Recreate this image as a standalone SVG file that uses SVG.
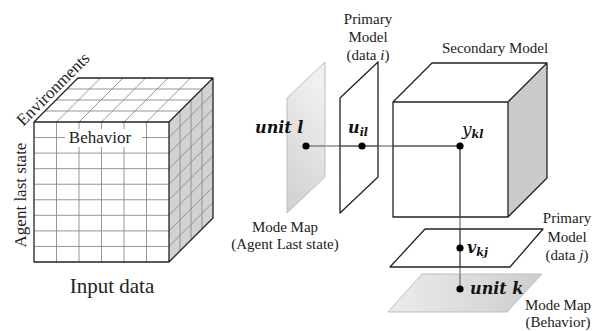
<svg xmlns="http://www.w3.org/2000/svg" width="614" height="331" viewBox="0 0 614 331">
  <style>
    .lbl { font-family: "Liberation Serif", "Times New Roman", serif; font-size: 15px; fill: #222; text-anchor: middle; }
    .big { font-family: "Liberation Serif", "Times New Roman", serif; font-size: 17px; fill: #222; }
    .math { font-family: "DejaVu Serif", serif; font-style: italic; font-weight: bold; fill: #111; }
    .edge { fill: none; stroke: #222; stroke-width: 1.3; stroke-linejoin: round; }
    .grid { fill: none; stroke: #8a8a8a; stroke-width: 0.9; }
    .wire { fill: none; stroke: #555; stroke-width: 1; }
    .dot { fill: #000; }
  </style>
  <defs>
    <linearGradient id="mapL" x1="0" y1="1" x2="0.3" y2="0">
      <stop offset="0" stop-color="#cfcfcf"/>
      <stop offset="1" stop-color="#f0f0f0"/>
    </linearGradient>
    <linearGradient id="mapK" x1="0" y1="0" x2="1" y2="0">
      <stop offset="0" stop-color="#ececec"/>
      <stop offset="1" stop-color="#cdcdcd"/>
    </linearGradient>
  </defs>
  <rect width="614" height="331" fill="#fff"/>

  <!-- Input data cube -->
  <g id="input-cube">
    <polygon points="34,122 169,122 213,78 78,78" fill="#fff"/>
    <polygon points="169,122 213,78 213,218 169,262" fill="#d2d2d2"/>
    <rect x="34" y="122" width="135" height="140" fill="#fff"/>
    <path class="grid" d="M56.5,122V262M79,122V262M101.5,122V262M124,122V262M146.5,122V262
      M34,137.56H169M34,153.11H169M34,168.67H169M34,184.22H169M34,199.78H169M34,215.33H169M34,230.89H169M34,246.44H169
      M45,111H180M56,100H191M67,89H202
      M56.5,122L100.5,78M79,122L123,78M101.5,122L145.5,78M124,122L168,78M146.5,122L190.5,78
      M180,111V251M191,100V240M202,89V229
      M169,137.56L213,93.56M169,153.11L213,109.11M169,168.67L213,124.67M169,184.22L213,140.22
      M169,199.78L213,155.78M169,215.33L213,171.33M169,230.89L213,186.89M169,246.44L213,202.44"/>
    <path class="edge" d="M34,122H169V262H34Z M34,122L78,78H213L169,122 M213,78V218L169,262"/>
    <rect x="65" y="129" width="77" height="18" fill="#fff"/>
    <text class="big" x="100" y="143" text-anchor="middle">Behavior</text>
    <text class="big" transform="translate(57,93) rotate(-45)" text-anchor="middle">Environments</text>
    <text class="big" transform="translate(26,195) rotate(-90)" text-anchor="middle">Agent last state</text>
    <text class="big" x="112" y="293" text-anchor="middle" style="font-size:21px">Input data</text>
  </g>

  <!-- Connectors -->
  <g id="connectors">
    <path class="wire" d="M306,146H460M460,146V289"/>
  </g>

  <!-- Mode map (agent last state) -->
  <g id="mode-map-l">
    <polygon points="287,98 325,62 325,177 287,213" fill="url(#mapL)" stroke="#bdbdbd" stroke-width="1"/>
    <path class="wire" d="M306,146H325"/>
    <circle class="dot" cx="306" cy="146" r="3.6"/>
    <text class="math" x="255" y="133" style="font-size:16px">unit l</text>
    <text class="lbl" x="285" y="232">Mode Map</text>
    <text class="lbl" x="285" y="249">(Agent Last state)</text>
  </g>

  <!-- Primary model (data i) -->
  <g id="primary-i">
    <polygon class="edge" points="340,98 378,62 378,177 340,213" fill="#fff"/>
    <path class="wire" d="M340,146H378"/>
    <circle class="dot" cx="362" cy="146" r="3.6"/>
    <text class="math" x="348" y="133" style="font-size:16px">u<tspan dy="3" style="font-size:11px">il</tspan></text>
    <text class="lbl" x="368" y="24">Primary</text>
    <text class="lbl" x="368" y="42">Model</text>
    <text class="lbl" x="368" y="60">(data <tspan font-style="italic">i</tspan>)</text>
  </g>

  <!-- Secondary model cube -->
  <g id="secondary">
    <polygon points="393,102 432,63 547,63 508,102" fill="#fff"/>
    <polygon points="508,102 547,63 547,178 508,217" fill="#cbcbcb"/>
    <path class="edge" d="M393,102H508V217H393Z M393,102L432,63H547L508,102 M547,63V178L508,217"/>
    <path class="wire" d="M393,146H460V217"/>
    <circle class="dot" cx="460" cy="146" r="3.6"/>
    <text class="math" x="462" y="135" style="font-size:17px;font-weight:normal">y<tspan dy="3" style="font-size:11px;font-weight:bold">kl</tspan></text>
    <text class="lbl" x="495" y="53">Secondary Model</text>
  </g>

  <!-- Primary model (data j) -->
  <g id="primary-j">
    <polygon class="edge" points="390,267 425,229 543,229 510,267" fill="#fff"/>
    <path class="wire" d="M460,229V267"/>
    <circle class="dot" cx="460" cy="248" r="3.6"/>
    <text class="math" x="467" y="253" style="font-size:16px">v<tspan dy="3" style="font-size:11px">kj</tspan></text>
    <text class="lbl" x="567" y="223">Primary</text>
    <text class="lbl" x="567" y="242">Model</text>
    <text class="lbl" x="567" y="260">(data <tspan font-style="italic">j</tspan>)</text>
  </g>

  <!-- Mode map (behavior) -->
  <g id="mode-map-k">
    <polygon points="388,312 422,274 542,274 507,312" fill="url(#mapK)" stroke="#bdbdbd" stroke-width="1"/>
    <path class="wire" d="M460,274V289"/>
    <circle class="dot" cx="460" cy="289" r="3.6"/>
    <text class="math" x="470" y="294" style="font-size:16px">unit k</text>
    <text class="lbl" x="558" y="310">Mode Map</text>
    <text class="lbl" x="558" y="327">(Behavior)</text>
  </g>
</svg>
